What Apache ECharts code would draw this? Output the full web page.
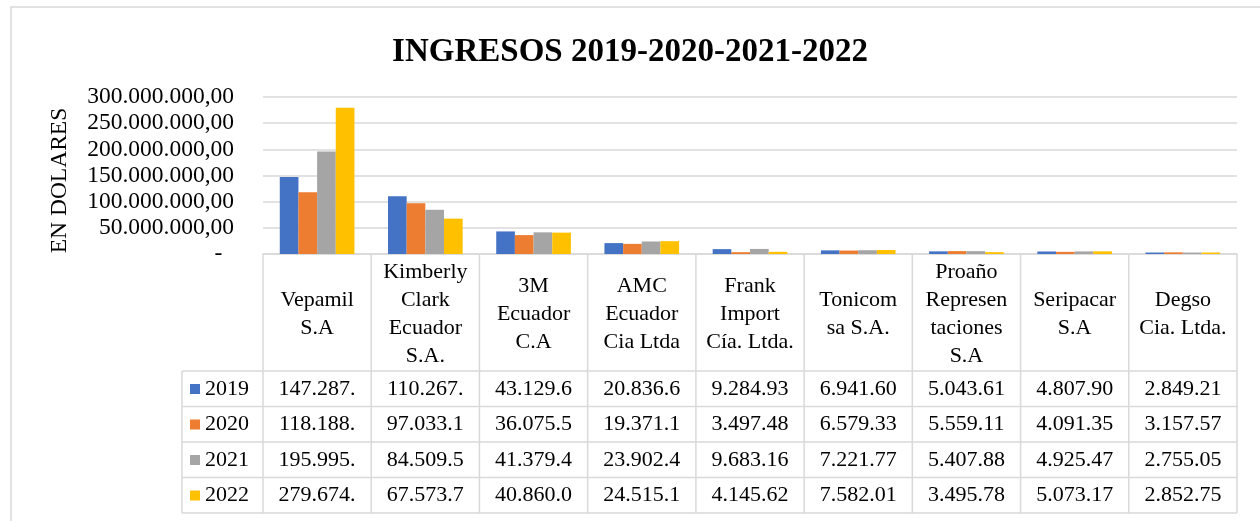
<!DOCTYPE html>
<html>
<head>
<meta charset="utf-8">
<script src="https://cdn.jsdelivr.net/npm/echarts@6/dist/echarts.min.js"></script>
<style>
html,body{margin:0;padding:0;background:#fff;}
#c{width:1260px;height:521px;}
</style>
</head>
<body>
<div id="c"></div>
<script>
const titleText = 'INGRESOS 2019-2020-2021-2022';
const yAxisName = 'EN DOLARES';
const categories = ['Vepamil\nS.A', 'Kimberly\nClark\nEcuador\nS.A.', '3M\nEcuador\nC.A', 'AMC\nEcuador\nCia Ltda', 'Frank\nImport\nCía. Ltda.', 'Tonicom\nsa S.A.', 'Proaño\nRepresen\ntaciones\nS.A', 'Seripacar\nS.A', 'Degso\nCia. Ltda.'];
const seriesNames = ['2019', '2020', '2021', '2022'];
const y2019 = [147287000, 110267000, 43129600, 20836600, 9284930, 6941600, 5043610, 4807900, 2849210];
const y2020 = [118188000, 97033100, 36075500, 19371100, 3497480, 6579330, 5559110, 4091350, 3157570];
const y2021 = [195995000, 84509500, 41379400, 23902400, 9683160, 7221770, 5407880, 4925470, 2755050];
const y2022 = [279674000, 67573700, 40860000, 24515100, 4145620, 7582010, 3495780, 5073170, 2852750];
const seriesData = [y2019, y2020, y2021, y2022];
const colors = ['#4472C4', '#ED7D31', '#A5A5A5', '#FFC000'];

const FONT = '"Liberation Serif", "Times New Roman", serif';
const GRID_COLOR = '#D9D9D9';

function dots(v) { return String(Math.round(v)).replace(/\B(?=(\d{3})+(?!\d))/g, '.'); }
function cellText(v) { return dots(v).slice(0, 8); }

const chart = echarts.init(document.getElementById('c'), null, {renderer: 'canvas'});

const option = {
  animation: false,
  backgroundColor: '#fff',
  title: {
    text: titleText,
    left: 'center',
    top: 31,
    textStyle: {fontFamily: FONT, fontWeight: 'bold', fontSize: 33, color: '#000'}
  },
  legend: {
    orient: 'vertical',
    left: 185,
    top: 373,
    itemWidth: 10,
    itemHeight: 10,
    itemGap: 13.5,
    icon: 'rect',
    data: seriesNames,
    selectedMode: false,
    textStyle: {fontFamily: FONT, fontSize: 22, color: '#000', lineHeight: 22}
  },
  grid: {left: 263, right: 23, top: 97, bottom: 267, containLabel: false},
  xAxis: {
    type: 'category',
    data: categories,
    axisLine: {lineStyle: {color: GRID_COLOR, width: 1.5}},
    axisTick: {show: false},
    axisLabel: {
      interval: 0,
      margin: 60,
      verticalAlign: 'middle',
      lineHeight: 28,
      fontFamily: FONT,
      fontSize: 22,
      color: '#000'
    }
  },
  yAxis: {
    type: 'value',
    min: 0,
    max: 300000000,
    interval: 50000000,
    name: yAxisName,
    nameLocation: 'middle',
    nameGap: 191,
    nameTextStyle: {fontFamily: FONT, fontSize: 23.5, color: '#000', padding: [0, 10, 0, 0]},
    axisLine: {show: false},
    axisTick: {show: false},
    splitLine: {lineStyle: {color: GRID_COLOR, width: 1.5}},
    axisLabel: {
      margin: 29,
      fontFamily: FONT,
      fontSize: 23.5,
      color: '#000',
      formatter: v => v === 0 ? '-\u2002' : dots(v) + ',00'
    }
  },
  series: seriesNames.map((n, i) => ({
    name: n,
    type: 'bar',
    data: seriesData[i],
    barGap: '0%',
    barCategoryGap: '31%',
    itemStyle: {color: colors[i]}
  }))
};
chart.setOption(option);

// Data table built from the axis scale positions
const xs = categories.map((c, i) => chart.convertToPixel({xAxisIndex: 0}, i));
const step = xs[1] - xs[0];
const yBase = chart.convertToPixel({yAxisIndex: 0}, 0);
const headerH = 117, rowH = 35.5, legendColW = 81;
const tableLeft = xs[0] - step / 2;
const tableRight = xs[xs.length - 1] + step / 2;
const rowsTop = yBase + headerH;
const tableBottom = rowsTop + rowH * seriesNames.length;
const lineStyle = {stroke: GRID_COLOR, lineWidth: 1.5};
const g = [];
// outer chart border
g.push({type: 'rect', shape: {x: 11, y: 7, width: 1400, height: 700}, style: {fill: 'none', stroke: GRID_COLOR, lineWidth: 1.5}, z: -1});
// vertical column lines
for (let i = 0; i <= categories.length; i++) {
  const x = tableLeft + i * step;
  g.push({type: 'line', shape: {x1: x, y1: yBase, x2: x, y2: tableBottom}, style: lineStyle});
}
g.push({type: 'line', shape: {x1: tableLeft - legendColW, y1: rowsTop, x2: tableLeft - legendColW, y2: tableBottom}, style: lineStyle});
// horizontal row lines
for (let r = 0; r <= seriesNames.length; r++) {
  const y = rowsTop + r * rowH;
  g.push({type: 'line', shape: {x1: tableLeft - legendColW, y1: y, x2: tableRight, y2: y}, style: lineStyle});
}
// cell values
seriesData.forEach((arr, r) => {
  arr.forEach((v, i) => {
    g.push({
      type: 'text',
      x: xs[i],
      y: rowsTop + r * rowH + rowH / 2,
      style: {text: cellText(v), fill: '#000', fontFamily: FONT, fontSize: 22, align: 'center', verticalAlign: 'middle', textAlign: 'center', textVerticalAlign: 'middle'}
    });
  });
});
chart.setOption({graphic: g});
</script>
</body>
</html>
